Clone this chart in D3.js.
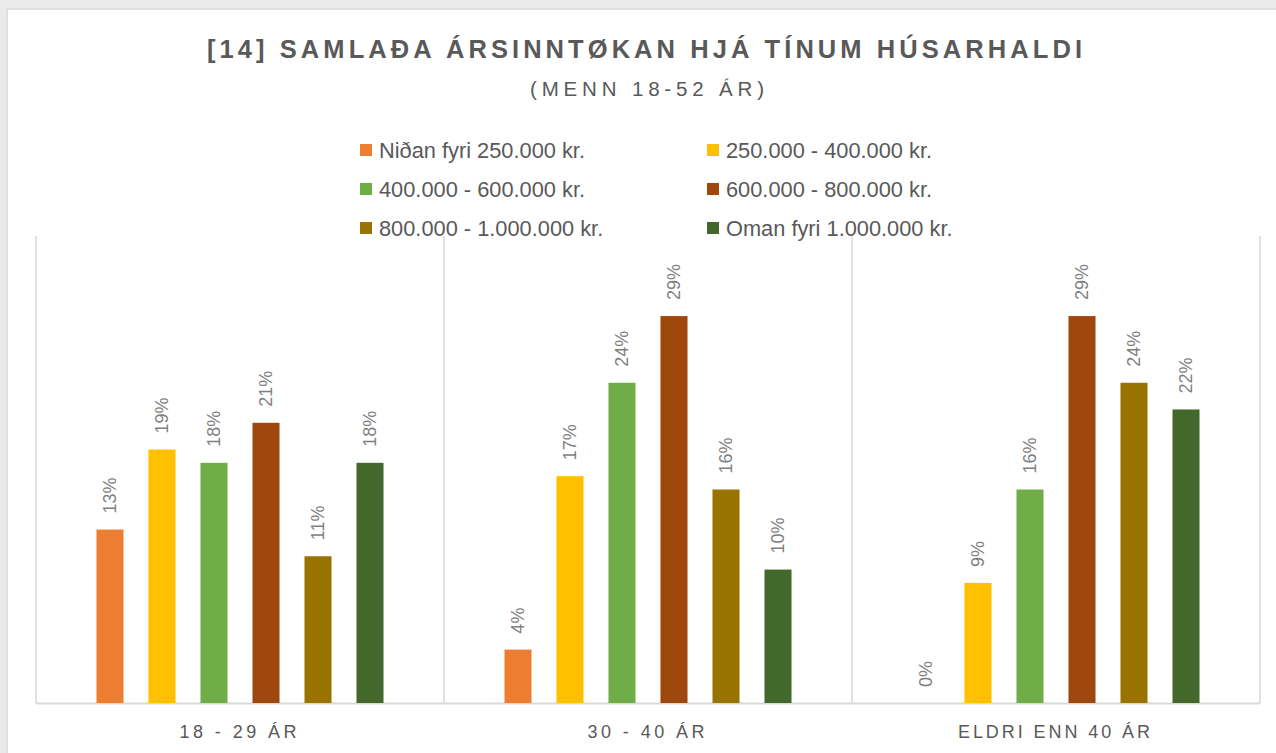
<!DOCTYPE html>
<html>
<head>
<meta charset="utf-8">
<script src="https://cdn.jsdelivr.net/npm/d3@7"></script>
<style>
  html, body { margin: 0; padding: 0; background: #ebebeb; }
  svg { display: block; }
</style>
</head>
<body>
<svg id="chart" width="1276" height="753"></svg>
<script>
const titleText = "[14] SAMLAÐA ÁRSINNTØKAN HJÁ TÍNUM HÚSARHALDI";
const subtitleText = "(MENN 18-52 ÁR)";
const categories = ["18 - 29 ÁR", "30 - 40 ÁR", "ELDRI ENN 40 ÁR"];
const seriesNames = [
  "Niðan fyri 250.000 kr.",
  "250.000 - 400.000 kr.",
  "400.000 - 600.000 kr.",
  "600.000 - 800.000 kr.",
  "800.000 - 1.000.000 kr.",
  "Oman fyri 1.000.000 kr."
];
const seriesColors = ["#ED7D31", "#FFC000", "#70AD47", "#9E480E", "#997300", "#43682B"];
const niðan = [13, 4, 0];
const s250_400 = [19, 17, 9];
const s400_600 = [18, 24, 16];
const s600_800 = [21, 29, 29];
const s800_1000 = [11, 16, 24];
const oman = [18, 10, 22];
const seriesValues = [niðan, s250_400, s400_600, s600_800, s800_1000, oman];

const svg = d3.select("#chart");

// card
svg.append("rect").attr("x", 7).attr("y", 9).attr("width", 1300).attr("height", 800)
  .attr("fill", "#ffffff").attr("stroke", "#d9d9d9").attr("stroke-width", 1.5);

const plot = { left: 36, right: 1260, top: 236, bottom: 703 };

const x0 = d3.scaleBand().domain(categories).range([plot.left, plot.right]).padding(0);
const x1 = d3.scaleBand().domain(d3.range(seriesNames.length))
  .range([48, x0.bandwidth() - 48]).paddingInner(0.48).paddingOuter(0.24);
const y = d3.scaleLinear().domain([0, 35]).range([plot.bottom, plot.top]);

function fitText(sel, width) {
  sel.attr("textLength", width).attr("lengthAdjust", "spacing");
}
// title
svg.append("text").attr("x", 207).attr("y", 58)
  .attr("font-family", "Liberation Sans, Arial, sans-serif").attr("font-weight", "bold")
  .attr("font-size", 25.5).attr("fill", "#595959").text(titleText).call(fitText, 875);
svg.append("text").attr("x", 530).attr("y", 96)
  .attr("font-family", "Liberation Sans, Arial, sans-serif")
  .attr("font-size", 20.5).attr("fill", "#595959").text(subtitleText).call(fitText, 234);

// legend
const legend = svg.append("g");
const legendCols = [360, 707];
const legendRows = [150, 189, 228];
seriesNames.forEach((name, i) => {
  const cx = legendCols[i % 2], cy = legendRows[Math.floor(i / 2)];
  legend.append("rect").attr("x", cx).attr("y", cy - 6).attr("width", 12).attr("height", 12)
    .attr("fill", seriesColors[i]);
  legend.append("text").attr("x", cx + 19).attr("y", cy).attr("dy", "0.35em")
    .attr("font-family", "Liberation Sans, Arial, sans-serif").attr("font-size", 21.8)
    .attr("fill", "#595959").text(name);
});

// category dividers
const bounds = categories.map(c => x0(c)).concat([plot.right]);
svg.append("g").selectAll("line").data(bounds).join("line")
  .attr("x1", d => d).attr("x2", d => d).attr("y1", plot.top).attr("y2", plot.bottom)
  .attr("stroke", "#d9d9d9").attr("stroke-width", 1.5);
svg.append("line").attr("x1", plot.left).attr("x2", plot.right)
  .attr("y1", plot.bottom + 0.5).attr("y2", plot.bottom + 0.5)
  .attr("stroke", "#d9d9d9").attr("stroke-width", 2);

// bars
const groups = svg.append("g").selectAll("g").data(categories).join("g")
  .attr("transform", c => `translate(${x0(c)},0)`);
groups.each(function(c, ci) {
  const g = d3.select(this);
  seriesValues.forEach((vals, si) => {
    const v = vals[ci];
    const bx = x1(si);
    g.append("rect").attr("x", bx).attr("width", x1.bandwidth())
      .attr("y", y(v)).attr("height", y(0) - y(v)).attr("fill", seriesColors[si]);
    const lx = bx + x1.bandwidth() / 2, ly = y(v) - 16;
    g.append("text").attr("transform", `translate(${lx},${ly}) rotate(-90)`)
      .attr("dy", "0.35em").attr("text-anchor", "start")
      .attr("font-family", "Liberation Sans, Arial, sans-serif").attr("font-size", 18)
      .attr("fill", "#7f7f7f").text(v + "%");
  });
});

// category axis labels
const labelWidths = [117, 117, 192];
categories.forEach((c, i) => {
  const cx = x0(c) + x0.bandwidth() / 2 - 2;
  svg.append("text").attr("x", cx - labelWidths[i] / 2).attr("y", 738)
    .attr("font-family", "Liberation Sans, Arial, sans-serif").attr("font-size", 18)
    .attr("fill", "#595959").text(c).call(fitText, labelWidths[i]);
});
</script>
</body>
</html>
